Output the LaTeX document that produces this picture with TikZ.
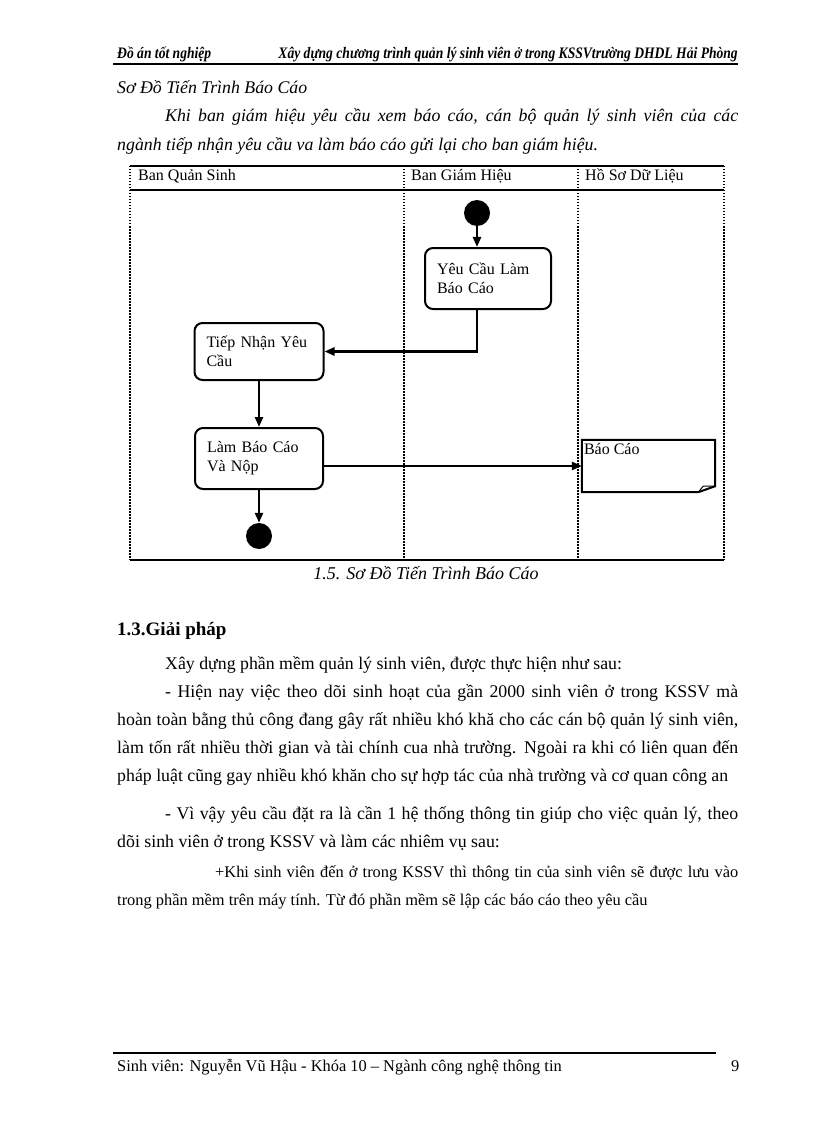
\documentclass[tikz,border=0pt]{standalone}
\usepackage{fontspec}
\setmainfont{Liberation Serif}
\newfontfamily\headfont[FakeStretch=0.85]{Liberation Serif}
\usepackage{tikz}
\usetikzlibrary{arrows.meta}
\usetikzlibrary{positioning}
\usetikzlibrary{calc}
\tikzset{
    txt/.style={anchor=base west, inner sep=0pt, font=\fontsize{17.8}{21}\selectfont},
    itxt/.style={txt, font=\fontsize{17.8}{21}\selectfont\itshape},
    smalltxt/.style={txt, font=\fontsize{16.4}{19}\selectfont},
    lanelabel/.style={anchor=base west, inner sep=0pt, font=\fontsize{16}{18}\selectfont},
    activity/.style={draw=black, line width=2pt, rounded corners=8pt,
        align=left, inner xsep=12pt, inner ysep=0pt,
        font=\fontsize{16}{19}\selectfont},
    startdot/.style={circle, fill=black, minimum size=26pt, inner sep=0pt},
    notebox/.style={minimum width=133pt, minimum height=52pt, inner sep=0pt},
    notedraw/.style={draw=black, line width=2pt, line join=miter},
    flow/.style={draw=black, line width=2.4pt, -{Triangle[length=10pt,width=8pt]}},
    lane/.style={draw=black, line width=1.2pt, dash pattern=on 1.5pt off 1.5pt},
    frameline/.style={draw=black, line width=1.5pt}
}
\newcommand{\jline}[2]{\makebox[#1][s]{#2}}
\begin{document}
\begin{tikzpicture}[x=1pt,y=-1pt]
	\useasboundingbox[fill=white] (0,0) rectangle (816,1123);
	% running head
	\node[anchor=base west, inner sep=0pt, font=\fontsize{16}{18}\headfont\bfseries\itshape] (head1) at (117,59) {Đồ án tốt nghiệp};
	\node[anchor=base east, inner sep=0pt, font=\fontsize{16}{18}\headfont\bfseries\itshape] (head2) at (738,59) {Xây dựng chương trình quản lý sinh viên ở trong KSSVtrường DHDL Hải Phòng};
	\draw[line width=1.5pt] (113,64) -- (738,64);
	\node[itxt] (title) at (117,94) {Sơ Đồ Tiến Trình Báo Cáo};
	\node[itxt] (intro1) at (165,122) {\jline{573pt}{Khi ban giám hiệu yêu cầu xem báo cáo, cán bộ quản lý sinh viên của các}};
	\node[itxt] (intro2) at (117,151) {ngành tiếp nhận yêu cầu va làm báo cáo gửi lại cho ban giám hiệu.};
	% swimlanes
	\draw[frameline] (130,166) -- (724,166);
	\draw[line width=2pt] (130,190) -- (724,190);
	\draw[frameline] (130,560) -- (724,560);
	\foreach \x in {130,404,578,724}
		\draw[lane] (\x,166) -- (\x,560);
	\node[lanelabel] (laneqs) at (138,181) {Ban Quản Sinh};
	\node[lanelabel] (lanegh) at (411,181) {Ban Giám Hiệu};
	\node[lanelabel] (lanehs) at (585,181) {Hồ Sơ Dữ Liệu};
	% activities
	\node[startdot] (start) at (477,213) {};
	\node[activity, minimum width=126pt, minimum height=61pt, text width=102pt] (ycau) at (488,278.5) {Yêu Cầu Làm\\Báo Cáo};
	\node[activity, minimum width=129pt, minimum height=57pt, text width=105pt] (tiepnhan) at (259,351.5) {Tiếp Nhận Yêu\\Cầu};
	\node[activity, minimum width=128pt, minimum height=61pt, text width=104pt] (lambc) at (259,458.5) {Làm Báo Cáo\\Và Nộp};
	\node[startdot] (stop) at (259,536) {};
	\node[notebox, label={[anchor=north west, inner sep=0pt, font=\fontsize{16}{18}\selectfont, yshift=-3pt, xshift=2pt]north west:Báo Cáo}] (baocao) at (648.5,466) {};
	\draw[notedraw] (baocao.north west) -- (baocao.north east) -- ($(baocao.south east)+(0,-6)$)
		-- ($(baocao.south east)+(-17,0)$) -- (baocao.south west) -- cycle;
	\draw[notedraw, line width=1pt] ($(baocao.south east)+(-17,0)$) -- ($(baocao.south east)+(-12,-6)$) -- ($(baocao.south east)+(0,-6)$);
	% connectors
	\draw[flow] (start) -- (start |- ycau.north);
	\draw[flow] (start |- ycau.south) |- (tiepnhan.east);
	\draw[flow] (tiepnhan.south) -- (lambc.north);
	\draw[flow] (lambc.east |- baocao.west) -- (baocao.west);
	\draw[flow] (lambc.south) -- (stop.north);
	\node[txt, anchor=base, font=\fontsize{18}{21}\selectfont\itshape] (caption) at (426,579) {1.5. Sơ Đồ Tiến Trình Báo Cáo};
	% section text
	\node[txt, font=\fontsize{19}{23}\selectfont\bfseries] (sect) at (117,635) {1.3.Giải pháp};
	\node[txt] (p1) at (165,669) {Xây dựng phần mềm quản lý sinh viên, được thực hiện như sau:};
	\node[txt] (p2) at (165,697) {\jline{573pt}{- Hiện nay việc theo dõi sinh hoạt của gần 2000 sinh viên ở trong KSSV mà}};
	\node[txt] (p3) at (117,725) {\jline{621pt}{hoàn toàn bằng thủ công đang gây rất nhiều khó khă cho các cán bộ quản lý sinh viên,}};
	\node[txt] (p4) at (117,753) {\jline{621pt}{làm tốn rất nhiều thời gian và tài chính cua nhà trường. Ngoài ra khi có liên quan đến}};
	\node[txt] (p5) at (117,781) {pháp luật cũng gay nhiều khó khăn cho sự hợp tác của nhà trường và cơ quan công an};
	\node[txt] (p6) at (165,819) {\jline{573pt}{- Vì vậy yêu cầu đặt ra là cần 1 hệ thống thông tin giúp cho việc quản lý, theo}};
	\node[txt] (p7) at (117,847) {dõi sinh viên ở trong KSSV và làm các nhiêm vụ sau:};
	\node[smalltxt] (p8) at (215,877) {\jline{523pt}{+Khi sinh viên đến ở trong KSSV thì thông tin của sinh viên sẽ được lưu vào}};
	\node[smalltxt] (p9) at (117,905) {trong phần mềm trên máy tính. Từ đó phần mềm sẽ lập các báo cáo theo yêu cầu};
	% footer
	\draw[line width=1.5pt] (113,1053) -- (716,1053);
	\node[smalltxt] (foot) at (117,1071) {Sinh viên: Nguyễn Vũ Hậu - Khóa 10 – Ngành công nghệ thông tin};
	\node[smalltxt] (pageno) at (731,1071) {9};
\end{tikzpicture}
\end{document}
